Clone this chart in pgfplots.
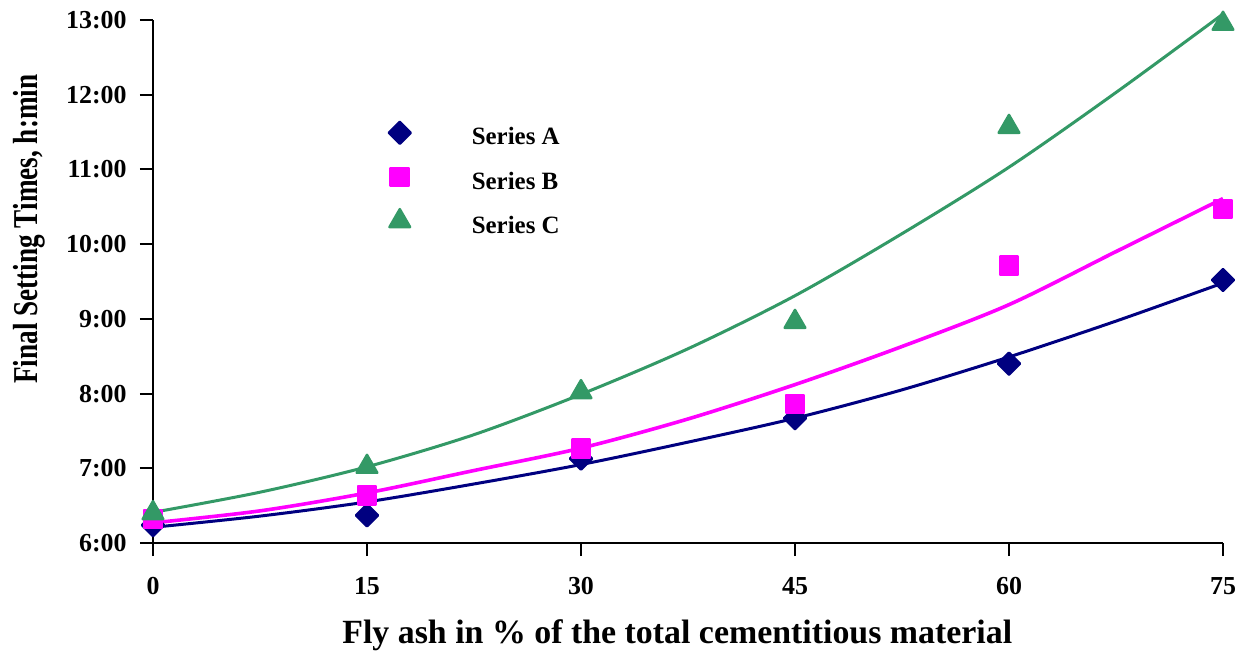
\documentclass[border=0pt]{standalone}
\usepackage{pgfplots}
\pgfplotsset{compat=1.18}
\usepackage{fontspec}
\setmainfont{Liberation Serif}
\definecolor{cA}{RGB}{0,0,128}
\definecolor{cB}{RGB}{255,0,255}
\definecolor{cC}{RGB}{51,153,102}
\begin{document}
\begin{tikzpicture}
\begin{axis}[
  scale only axis, width=535bp, height=261.5bp,
  xmin=0, xmax=75, ymin=6, ymax=13,
  axis x line=bottom, axis y line=left,
  axis line style={-, line width=1bp, black},
  clip=false,
  xtick={0,15,30,45,60,75}, xticklabels={0,15,30,45,60,75},
  ytick={6,7,8,9,10,11,12,13},
  yticklabels={6:00,7:00,8:00,9:00,10:00,11:00,12:00,13:00},
  tick align=outside, major tick length=6.5bp,
  tick style={black, line width=1bp},
  ticklabel style={font=\fontsize{13}{15}\selectfont\bfseries},
  yticklabel style={anchor=east, inner sep=0pt, xshift=-6.5bp},
  xticklabel style={anchor=north, inner sep=0pt, yshift=-10.5bp},
  xlabel={Fly ash in \% of the total cementitious material},
  xlabel style={at={(axis description cs:0.49,0)}, anchor=base, yshift=-50bp,
    font=\fontsize{17}{20}\selectfont\bfseries},
  ylabel={\scalebox{0.78}[1]{Final Setting Times, h:min}},
  ylabel style={at={(axis description cs:-0.1075,0.6)}, anchor=base, rotate=0,
    font=\fontsize{17.5}{20}\selectfont\bfseries},
  legend style={at={(axis cs:17.3,11.49)}, anchor=north west, xshift=-10bp, yshift=10.5bp,
    draw=none, fill=none, inner sep=0pt, outer sep=0pt, row sep=4bp,
    nodes={inner sep=0pt}, font=\fontsize{12.5}{14}\selectfont\bfseries},
  legend cell align=left,
  legend image code/.code={\path[draw=none,fill=none] (-10bp,-4bp) rectangle (36bp,13bp);
    \draw[mark repeat=2,mark phase=2,#1] plot coordinates {(-10bp,2.5bp)(0bp,2.5bp)(10bp,2.5bp)};},
]
% trend curves
\addplot[cA, line width=1.5bp, smooth, forget plot] coordinates {
 (0,6.21)(7.5,6.36)(15,6.55)(22.5,6.79)(30,7.05)(37.5,7.35)(45,7.67)(52.5,8.05)(60,8.49)(67.5,8.97)(75,9.48)};
\addplot[cB, line width=1.8bp, smooth, forget plot] coordinates {
 (0,6.27)(7.5,6.43)(15,6.67)(22.5,6.97)(30,7.27)(37.5,7.66)(45,8.12)(52.5,8.63)(60,9.19)(67.5,9.90)(75,10.61)};
\addplot[cC, line width=1.5bp, smooth, forget plot] coordinates {
 (0,6.41)(7.5,6.68)(15,7.02)(22.5,7.45)(30,7.99)(37.5,8.60)(45,9.31)(52.5,10.14)(60,11.03)(67.5,12.03)(75,13.08)};
% measured points
\addplot[only marks, mark=square*, mark size=3.9bp,
  mark options={rotate=45, fill=cA, draw=cA, line width=1.2bp, line join=round}]
  coordinates {(0,6.24)(15,6.37)(30,7.13)(45,7.67)(60,8.40)(75,9.52)};
\addlegendentry{Series A}
\addplot[only marks, mark=square*, mark size=4.6bp,
  mark options={fill=cB, draw=cB, line width=1.2bp, line join=round}]
  coordinates {(0,6.32)(15,6.64)(30,7.26)(45,7.86)(60,9.71)(75,10.47)};
\addlegendentry{Series B}
\addplot[only marks, mark=triangle*, mark size=6bp,
  mark options={fill=cC, draw=cC, line width=1.2bp, line join=round}]
  coordinates {(0,6.40)(15,7.02)(30,8.02)(45,8.96)(60,11.57)(75,12.95)};
\addlegendentry{Series C}
\end{axis}
\pgfresetboundingbox
\path (current axis.south west) ++(-76.5bp,-55.5bp) rectangle ++(626bp,327bp);
\end{tikzpicture}
\end{document}
